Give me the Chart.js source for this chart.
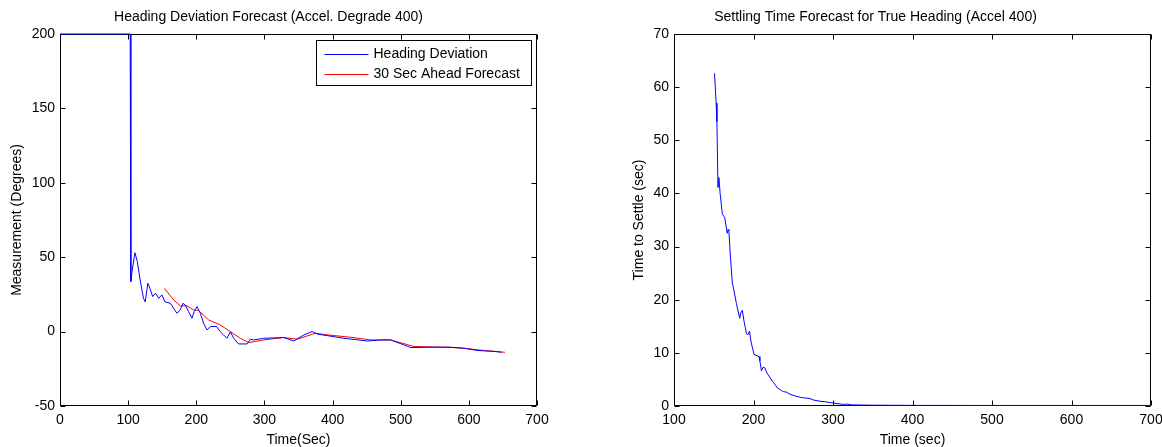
<!DOCTYPE html>
<html>
<head>
<meta charset="utf-8">
<script src="https://cdn.jsdelivr.net/npm/chart.js@4.4.1/dist/chart.umd.min.js"></script>
<style>
  html, body { margin: 0; padding: 0; background: #fff; overflow: hidden; }
  #wrap { position: relative; width: 1162px; height: 447px; overflow: hidden; }
  #left { position: absolute; left: 0; top: 0; }
  #right { position: absolute; left: 600px; top: 0; }
</style>
</head>
<body>
<div id="wrap">
  <canvas id="left" width="600" height="447"></canvas>
  <canvas id="right" width="580" height="447"></canvas>
</div>
<script>
// left panel: heading deviation (blue) and 30 s forecast (red)
const headingTime = [0, 101, 103, 104, 106, 110, 113.5, 117.6, 122.5, 125, 129, 132, 136, 140, 145, 149.5, 154, 162, 171.6, 176.5,
  180.4, 184, 188.7, 193.6, 197, 201, 206, 210.8, 215.7, 220.6, 230, 235, 240, 245, 250, 255, 262, 274.5, 279.4, 284,
  299, 328.4, 343, 358, 370, 378, 392, 416.7, 451, 470.6, 485, 505, 514.7, 549, 573.5, 593, 612.8, 639.7, 648];
const headingDev = [200, 200, 200, 33.6, 41.5, 53, 47, 34.7, 22.4, 20, 32.5, 29, 23.5, 25.8, 22.4, 24.7, 20, 19, 12.3, 14.6,
  19, 17.9, 13.5, 9, 13.5, 16.8, 12.3, 5.6, 1.1, 3.4, 3.4, 0, -2.2, -4.5, -0.1, -4.5, -8.3, -8.3, -5.1, -5.6,
  -4.5, -4.0, -6.3, -2.2, 0, -1.7, -2.7, -4.5, -6.3, -5.6, -5.6, -9, -10.7, -10.5, -10.5, -11.2, -12.7, -13.4, -13.9];

const forecastTime = [153.4, 166.7, 176.5, 186.3, 196, 203.4, 218, 235, 250, 264.7, 277, 299, 328, 348, 375, 392, 426.5,
  456, 485, 519.6, 568.6, 593, 622.5, 653];
const forecastVal = [29, 21.3, 17.3, 17.3, 14.6, 14.1, 7.9, 4.5, 0, -4.5, -7.4, -5.6, -4, -5.1, -1.1, -2.2, -3.8,
  -5.6, -5.6, -10, -10.5, -11.2, -12.7, -13.9];

// right panel: settling time forecast
const settleTime = [151, 153, 154, 155.3, 156.5, 158, 160.8, 163.7, 167, 168, 169, 171, 173.4, 175, 178.5, 182.6, 184, 186,
  188, 189.8, 191, 193, 195, 197, 200.7, 207, 208, 210, 212, 214.2, 217, 220.5, 224, 226.8, 230, 235.3, 238, 241.6,
  246, 252, 260, 271, 276, 283.6, 290, 298.4, 305, 313, 318, 323.6, 350, 400, 500, 600, 700];
const settleVal = [62.6, 57, 53.5, 41.1, 43, 40, 36.1, 35.5, 32.5, 33.2, 33, 28, 23.1, 22, 19.3, 16.5, 17.5, 18,
  16, 14.7, 13.6, 13.4, 14.1, 12, 9.7, 9.3, 8.5, 6.6, 7.3, 7.2, 6.2, 5.4, 4.6, 4.1, 3.4, 2.9, 2.7, 2.6,
  2.2, 1.9, 1.6, 1.4, 1.1, 0.9, 0.8, 0.6, 0.45, 0.3, 0.35, 0.2, 0.15, 0.12, 0.1, 0.1, 0.1];

const FONT = "'Liberation Sans', Arial, Helvetica, sans-serif";
const pts = (xs, ys) => xs.map((x, i) => ({ x, y: ys[i] }));

// matlab style box with inward ticks on all four sides
const framePlugin = {
  id: 'frame',
  beforeDatasetsDraw(chart) {
    const { ctx, chartArea: a, scales: { x, y } } = chart;
    const L = Math.round(a.left) + 0.5, R = Math.round(a.right) - 0.5;
    const T = Math.round(a.top) + 0.5, B = Math.round(a.bottom) - 0.5;
    ctx.save();
    ctx.strokeStyle = '#000';
    ctx.lineWidth = 1;
    ctx.beginPath();
    ctx.rect(L, T, R - L, B - T);
    x.ticks.forEach(t => {
      const px = Math.round(x.getPixelForValue(t.value)) + 0.5;
      ctx.moveTo(px, B); ctx.lineTo(px, B - 5);
      ctx.moveTo(px, T); ctx.lineTo(px, T + 5);
    });
    y.ticks.forEach(t => {
      const py = Math.round(y.getPixelForValue(t.value)) + 0.5;
      ctx.moveTo(L, py); ctx.lineTo(L + 5, py);
      ctx.moveTo(R, py); ctx.lineTo(R - 5, py);
    });
    ctx.stroke();
    ctx.restore();
  }
};

// boxed legend in the top right corner of the plot
const boxLegend = {
  id: 'boxLegend',
  afterDatasetsDraw(chart, args, opts) {
    if (!opts.show) return;
    const { ctx, chartArea: a } = chart;
    const w = 215, h = 45;
    const x0 = Math.round(a.right - 6 - w) + 0.5, y0 = Math.round(a.top + 6) + 0.5;
    ctx.save();
    ctx.fillStyle = '#fff';
    ctx.fillRect(x0, y0, w, h);
    ctx.strokeStyle = '#000';
    ctx.lineWidth = 1;
    ctx.strokeRect(x0, y0, w, h);
    ctx.font = '14px ' + FONT;
    ctx.textBaseline = 'middle';
    chart.data.datasets.forEach((ds, i) => {
      const cy = Math.round(y0 + 13 + i * 20) + 0.5;
      ctx.strokeStyle = ds.borderColor;
      ctx.beginPath();
      ctx.moveTo(x0 + 8, cy); ctx.lineTo(x0 + 52, cy);
      ctx.stroke();
      ctx.fillStyle = '#000';
      ctx.fillText(ds.label, x0 + 57, cy);
    });
    ctx.restore();
  }
};

function makeOptions(cfg) {
  return {
    responsive: false,
    animation: false,
    layout: { padding: { left: 0, right: cfg.padRight, top: 0, bottom: 0 } },
    plugins: {
      legend: { display: false },
      tooltip: { enabled: false },
      title: {
        display: true, text: cfg.title, color: '#000',
        font: { family: FONT, size: 14, weight: 'normal', lineHeight: 1.2 },
        padding: { top: 9, bottom: 8.2 }
      },
      boxLegend: { show: cfg.legend }
    },
    scales: {
      x: {
        type: 'linear', min: cfg.xMin, max: cfg.xMax,
        grid: { display: false, drawTicks: false },
        border: { display: false },
        ticks: { stepSize: 100, color: '#000', padding: 6, maxRotation: 0, font: { family: FONT, size: 14 } },
        title: { display: true, text: cfg.xTitle, color: '#000', padding: { top: 0, bottom: 0 },
          font: { family: FONT, size: 14, lineHeight: 1 } },
        afterFit(s) { s.height = 41; }
      },
      y: {
        min: cfg.yMin, max: cfg.yMax,
        grid: { display: false, drawTicks: false },
        border: { display: false },
        ticks: { stepSize: cfg.yStep, color: '#000', padding: 5, font: { family: FONT, size: 14 } },
        title: { display: true, text: cfg.yTitle, color: '#000', padding: { top: cfg.yTitlePad, bottom: 0 },
          font: { family: FONT, size: 14, lineHeight: 1 } },
        afterFit(s) { s.width = cfg.yWidth; }
      }
    }
  };
}

new Chart(document.getElementById('left'), {
  type: 'line',
  data: {
    datasets: [
      { label: 'Heading Deviation', data: pts(headingTime, headingDev), borderColor: '#0000ff',
        borderWidth: 1, pointRadius: 0, tension: 0, clip: false },
      { label: '30 Sec Ahead Forecast', data: pts(forecastTime, forecastVal), borderColor: '#ff0000',
        borderWidth: 1, pointRadius: 0, tension: 0, clip: false }
    ]
  },
  options: makeOptions({
    title: 'Heading Deviation Forecast (Accel. Degrade 400)',
    xTitle: 'Time(Sec)', yTitle: 'Measurement (Degrees)',
    xMin: 0, xMax: 700, yMin: -50, yMax: 200, yStep: 50,
    yWidth: 60, padRight: 63, yTitlePad: 10, legend: true
  }),
  plugins: [framePlugin, boxLegend]
});

new Chart(document.getElementById('right'), {
  type: 'line',
  data: {
    datasets: [
      { label: 'Time to Settle', data: pts(settleTime, settleVal), borderColor: '#0000ff',
        borderWidth: 1, pointRadius: 0, tension: 0, clip: false }
    ]
  },
  options: makeOptions({
    title: 'Settling Time Forecast for True Heading (Accel 400)',
    xTitle: 'Time (sec)', yTitle: 'Time to Settle (sec)',
    xMin: 100, xMax: 700, yMin: 0, yMax: 70, yStep: 10,
    yWidth: 74, padRight: 29, yTitlePad: 32, legend: false
  }),
  plugins: [framePlugin, boxLegend]
});
</script>
</body>
</html>
